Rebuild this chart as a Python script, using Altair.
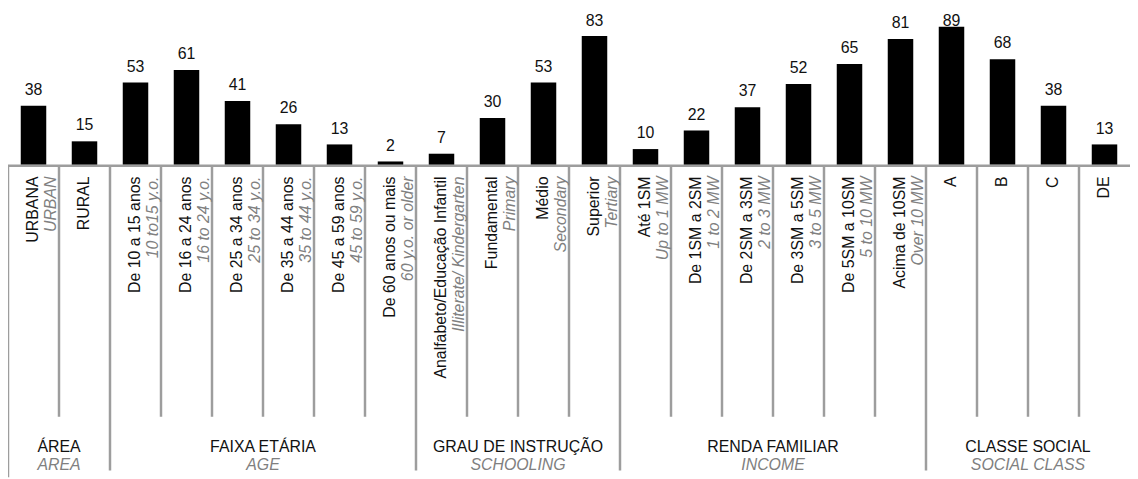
import altair as alt

# ---- data ----
categories_pt = [
    "URBANA", "RURAL",
    "De 10 a 15 anos", "De 16 a 24 anos", "De 25 a 34 anos", "De 35 a 44 anos",
    "De 45 a 59 anos", "De 60 anos ou mais",
    "Analfabeto/Educação Infantil", "Fundamental", "Médio", "Superior",
    "Até 1SM", "De 1SM a 2SM", "De 2SM a 3SM", "De 3SM a 5SM", "De 5SM a 10SM",
    "Acima de 10SM",
    "A", "B", "C", "DE",
]
categories_en = [
    "URBAN", "",
    "10 to15 y.o.", "16 to 24 y.o.", "25 to 34 y.o.", "35 to 44 y.o.",
    "45 to 59 y.o.", "60 y.o. or older",
    "Illiterate/ Kindergarten", "Primary", "Secondary", "Tertiary",
    "Up to 1 MW", "1 to 2 MW", "2 to 3 MW", "3 to 5 MW", "5 to 10 MW",
    "Over 10 MW",
    "", "", "", "",
]
values = [38, 15, 53, 61, 41, 26, 13, 2, 7, 30, 53, 83, 10, 22, 37, 52, 65, 81, 89, 68, 38, 13]

group_pt = ["ÁREA", "FAIXA ETÁRIA", "GRAU DE INSTRUÇÃO", "RENDA FAMILIAR", "CLASSE SOCIAL"]
group_en = ["AREA", "AGE", "SCHOOLING", "INCOME", "SOCIAL CLASS"]
group_start = [0, 2, 8, 12, 18]
group_end = [2, 8, 12, 18, 22]

n = len(values)
inner_bounds = [i for i in range(1, n) if i not in group_start]
outer_bounds = [b for b in group_start if b > 0]

# ---- layout / style ----
W, H = 1130, 471
BASE = 156
GREY_LINE = "#9d9d9d"
GREY_TEXT = "#808080"
FONT = "Liberation Sans"
FS = 16

cat_records = []
for i, (p, e, v) in enumerate(zip(categories_pt, categories_en, values)):
    cat_records.append({
        "i": i, "v": v,
        "pt_lines": [p, ""] if e else [p],
        "en_lines": ["", e] if e else [""],
    })
cat_data = alt.Data(values=cat_records)

grp_data = alt.Data(values=[
    {"pt": p, "en": e, "s": s, "e2": t}
    for p, e, s, t in zip(group_pt, group_en, group_start, group_end)
])

xs = alt.Scale(domain=[0, n], nice=False, zero=False)
ys = alt.Scale(domain=[0, 100], range=[BASE, 0], nice=False, zero=True)

base = alt.Chart(cat_data).transform_calculate(
    x0="datum.i + 0.25", x1="datum.i + 0.75", xc="datum.i + 0.5",
    z="0",
    ly="min(datum.v + 7.05, 89.7)",
)

bars = base.mark_bar(color="black").encode(
    x=alt.X("x0:Q", scale=xs, axis=None),
    x2="x1:Q",
    y=alt.Y("v:Q", scale=ys, axis=None),
    y2="z:Q",
)

value_labels = base.mark_text(
    baseline="alphabetic", align="center", fontSize=FS, font=FONT, color="#111111"
).encode(
    x=alt.X("xc:Q", scale=xs, axis=None),
    y=alt.Y("ly:Q", scale=ys, axis=None),
    text="v:Q",
)

cat_pt = base.mark_text(
    angle=270, align="right", baseline="middle", fontSize=FS, font=FONT,
    lineHeight=18, color="#111111",
).encode(
    x=alt.X("xc:Q", scale=xs, axis=None),
    y=alt.value(168),
    text="pt_lines:N",
)

cat_en = base.mark_text(
    angle=270, align="right", baseline="middle", fontSize=FS, font=FONT,
    lineHeight=18, color=GREY_TEXT, fontStyle="italic",
).encode(
    x=alt.X("xc:Q", scale=xs, axis=None),
    y=alt.value(168),
    text="en_lines:N",
)

gbase = alt.Chart(grp_data).transform_calculate(gc="(datum.s + datum.e2) / 2")
grp_pt = gbase.mark_text(
    baseline="middle", align="center", fontSize=FS, font=FONT, color="#111111"
).encode(x=alt.X("gc:Q", scale=xs, axis=None), y=alt.value(440), text="pt:N")
grp_en = gbase.mark_text(
    baseline="middle", align="center", fontSize=FS, font=FONT, color=GREY_TEXT,
    fontStyle="italic",
).encode(x=alt.X("gc:Q", scale=xs, axis=None), y=alt.value(458.5), text="en:N")

inner_rules = alt.Chart(alt.Data(values=[{"b": b} for b in inner_bounds])).mark_rule(
    color=GREY_LINE, strokeWidth=2.5
).encode(x=alt.X("b:Q", scale=xs, axis=None), y=alt.value(BASE + 1), y2=alt.value(410))

outer_rules = alt.Chart(alt.Data(values=[{"b": b} for b in outer_bounds])).mark_rule(
    color=GREY_LINE, strokeWidth=2.5
).encode(x=alt.X("b:Q", scale=xs, axis=None), y=alt.value(BASE + 1), y2=alt.value(464))

edge_rule = alt.Chart(alt.Data(values=[{"b": 0}])).mark_rule(
    color=GREY_LINE, strokeWidth=2.5
).encode(x=alt.X("b:Q", scale=xs, axis=None), y=alt.value(BASE + 1), y2=alt.value(H))

baseline_rule = alt.Chart(alt.Data(values=[{"b": 0}])).mark_rule(
    color=GREY_LINE, strokeWidth=2.5
).encode(x=alt.value(0), x2=alt.value(W), y=alt.value(BASE + 1.2))

chart = alt.layer(
    inner_rules, outer_rules, edge_rule, baseline_rule,
    bars, value_labels, cat_pt, cat_en, grp_pt, grp_en,
).properties(
    width=W, height=H, padding=0,
    autosize=alt.AutoSizeParams(type="none"),
).configure_view(stroke=None)

chart.save("out.html", embed_options={"renderer": "svg", "actions": False})
